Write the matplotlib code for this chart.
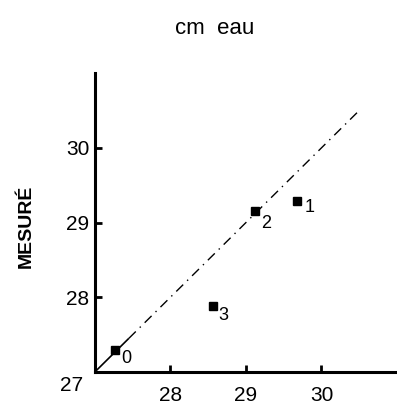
import matplotlib
matplotlib.use("Agg")
import matplotlib.pyplot as plt

# values
calcule = [27.27, 29.68, 29.12, 28.56]
mesure = [27.29, 29.29, 29.16, 27.88]
point_labels = ["0", "1", "2", "3"]
label_offsets = [(8, -6), (9, -5), (8, -9), (8, -7)]
ticks = [28, 29, 30]
diag_solid = [27.0, 27.45]
diag_dash = [27.45, 30.5]

plt.rcParams["font.family"] = ["Liberation Sans", "DejaVu Sans"]

fig = plt.figure(figsize=(3.97, 4.11), dpi=100)
ax = fig.add_axes([0.239, 0.095, 0.761, 0.727])

# 1:1 line
ax.plot(diag_solid, diag_solid, color="black", lw=1.2, solid_capstyle="butt")
ax.plot(diag_dash, diag_dash, color="black", lw=1.0, dashes=(7, 4, 1, 4))

ax.plot(calcule, mesure, "s", color="black", ms=6)
for x, y, lab, off in zip(calcule, mesure, point_labels, label_offsets):
    ax.annotate(lab, xy=(x, y), xytext=off, textcoords="offset points",
                fontsize=13, ha="center", va="center")

ax.set_xlim(27, 31)
ax.set_ylim(27, 31)
ax.set_xticks(ticks)
ax.set_yticks(ticks)
ax.tick_params(direction="in", length=5, width=2, labelsize=15)
ax.tick_params(axis="x", pad=10)
ax.tick_params(axis="y", pad=4)

for side in ["top", "right"]:
    ax.spines[side].set_visible(False)
for side in ["left", "bottom"]:
    ax.spines[side].set_linewidth(2.2)

ax.annotate("27", xy=(27, 27), xytext=(-17, -10), textcoords="offset points",
            fontsize=15, ha="center", va="center")

fig.text(26 / 397, 1 - 226 / 411, "MESURÉ", rotation=90, fontsize=14,
         fontweight="bold", ha="center", va="center")
fig.text(215 / 397, 1 - 28 / 411, "cm  eau", fontsize=16, ha="center", va="center")

fig.savefig("out.png", dpi=100)
